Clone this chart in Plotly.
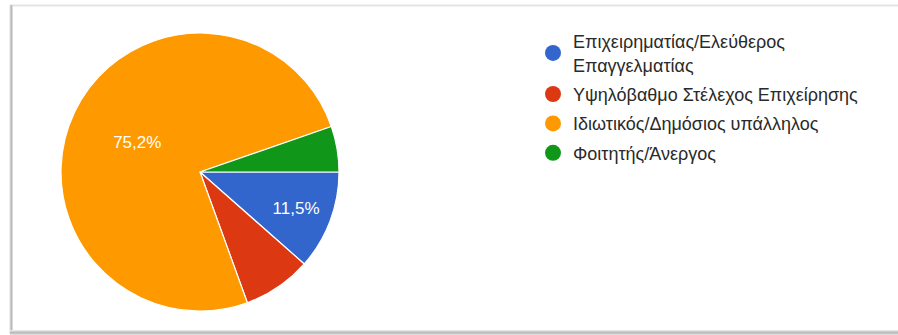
import plotly.graph_objects as go

# Response shares by occupation
categories = [
    "Επιχειρηματίας/Ελεύθερος<br>Επαγγελματίας",
    "Υψηλόβαθμο Στέλεχος Επιχείρησης",
    "Ιδιωτικός/Δημόσιος υπάλληλος",
    "Φοιτητής/Άνεργος",
]
counts = [13, 9, 85, 6]
colors = ["#3366cc", "#dc3912", "#ff9900", "#109618"]

W, H = 898, 335

def px(x):
    return x / W

def py(y):
    return 1 - y / H

# labels shown only on the larger slices
total = sum(counts)
templates = ["%{percent:.1%}" if c / total >= 0.1 else "" for c in counts]

fig = go.Figure()
fig.add_trace(go.Pie(
    labels=categories,
    values=counts,
    sort=False,
    direction="clockwise",
    rotation=90,
    marker=dict(colors=colors, line=dict(color="white", width=1.2)),
    texttemplate=templates,
    textposition="inside",
    insidetextorientation="horizontal",
    textfont=dict(family="Arial, Liberation Sans", size=17, color="white"),
    domain=dict(x=[px(61), px(339)], y=[py(311), py(33)]),
    showlegend=False,
    hoverinfo="label+percent",
))

# legend entries with round markers, one group each for extra row spacing
for i, (name, col) in enumerate(zip(categories, colors)):
    fig.add_trace(go.Scatter(
        x=[None], y=[None], mode="markers", name=name,
        legendgroup=f"g{i}",
        marker=dict(symbol="circle", size=17, color=col),
        showlegend=True,
    ))

# card frame: light top edge, shaded left and bottom edges
shapes = []
shapes.append(dict(type="line", xref="paper", yref="paper",
                   x0=px(10), x1=1, y0=py(5.5), y1=py(5.5),
                   line=dict(color="#e4e4e4", width=2)))
for off, c in [(0, "#eeeeee"), (1, "#d0d0d0"), (2, "#b8b8b8"), (3, "#dcdcdc")]:
    shapes.append(dict(type="line", xref="paper", yref="paper",
                       x0=px(9.5 + off), x1=px(9.5 + off), y0=py(5), y1=py(334),
                       line=dict(color=c, width=1)))
for off, c in [(0, "#e6e6e6"), (1, "#cfcfcf"), (2, "#bdbdbd"), (3, "#c4c4c4"), (4, "#dedede")]:
    shapes.append(dict(type="line", xref="paper", yref="paper",
                       x0=px(10), x1=1, y0=py(330.5 + off), y1=py(330.5 + off),
                       line=dict(color=c, width=1)))

fig.update_layout(
    width=W, height=H,
    margin=dict(l=0, r=0, t=0, b=0),
    paper_bgcolor="white",
    plot_bgcolor="white",
    separators=",.",
    xaxis=dict(visible=False),
    yaxis=dict(visible=False),
    shapes=shapes,
    legend=dict(
        x=px(533), y=py(23), xanchor="left", yanchor="top",
        font=dict(family="Arial, Liberation Sans", size=18, color="#2a2a2a"),
        itemsizing="trace",
        bgcolor="rgba(0,0,0,0)",
        tracegroupgap=3,
    ),
)

fig.write_html("out.html")
